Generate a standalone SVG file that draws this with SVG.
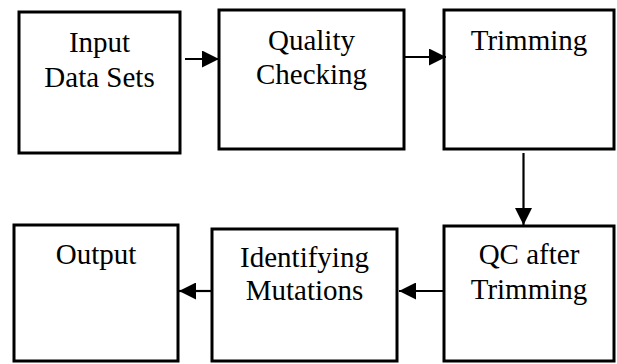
<svg xmlns="http://www.w3.org/2000/svg" width="617" height="364" viewBox="0 0 617 364">
  <style>
    .box { fill: #ffffff; stroke: #000000; stroke-width: 3; }
    .lbl { font-family: "Liberation Serif", "Times New Roman", serif; font-size: 29px; fill: #000000; text-anchor: middle; }
    .link { stroke: #000000; stroke-width: 2.2; fill: none; marker-end: url(#head); }
  </style>
  <defs>
    <marker id="head" markerUnits="userSpaceOnUse" markerWidth="18" markerHeight="17" refX="17" refY="8.5" orient="auto">
      <polygon points="0,0 17,8.5 0,17" fill="#000000"/>
    </marker>
  </defs>

  <rect width="617" height="364" fill="#ffffff"/>

  <g id="input">
    <rect class="box" x="19" y="12" width="161" height="141"/>
    <text class="lbl" x="99.5" y="52">Input</text>
    <text class="lbl" x="99.5" y="87">Data Sets</text>
  </g>

  <g id="quality">
    <rect class="box" x="219" y="10" width="185" height="139"/>
    <text class="lbl" x="311.5" y="50">Quality</text>
    <text class="lbl" x="311.5" y="84">Checking</text>
  </g>

  <g id="trimming">
    <rect class="box" x="444" y="10" width="170" height="139"/>
    <text class="lbl" x="529" y="50">Trimming</text>
  </g>

  <g id="qc-after">
    <rect class="box" x="444" y="226" width="170" height="135"/>
    <text class="lbl" x="529" y="264">QC after</text>
    <text class="lbl" x="529" y="299">Trimming</text>
  </g>

  <g id="identifying">
    <rect class="box" x="212" y="229" width="185" height="132"/>
    <text class="lbl" x="304.5" y="267">Identifying</text>
    <text class="lbl" x="304.5" y="300">Mutations</text>
  </g>

  <g id="output">
    <rect class="box" x="14" y="225" width="164" height="136"/>
    <text class="lbl" x="96" y="264">Output</text>
  </g>

  <g id="connectors">
    <line class="link" x1="185" y1="59" x2="219" y2="59"/>
    <line class="link" x1="405" y1="57" x2="446" y2="57"/>
    <line class="link" x1="523.5" y1="153" x2="523.5" y2="225"/>
    <line class="link" x1="443" y1="291" x2="399" y2="291"/>
    <line class="link" x1="211" y1="291" x2="179" y2="291"/>
  </g>
</svg>
